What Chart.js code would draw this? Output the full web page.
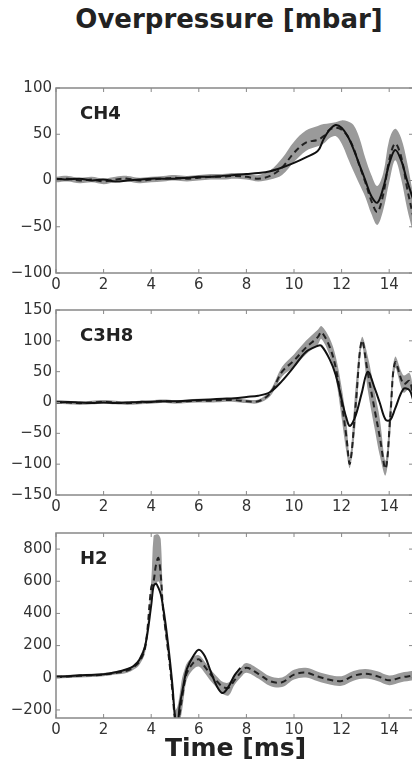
<!DOCTYPE html>
<html>
<head>
<meta charset="utf-8">
<script src="https://cdn.jsdelivr.net/npm/chart.js@4.4.1/dist/chart.umd.min.js"></script>
<style>
  html, body { margin: 0; padding: 0; background: #fff; overflow: hidden; }
  body { width: 412px; height: 762px; position: relative; font-family: "DejaVu Sans", sans-serif; }
  .panel { position: absolute; left: 0; width: 420px; height: 222px; }
  #title { position: absolute; top: 4px; left: 0; width: 458px; text-align: center; font-weight: bold; font-size: 26px; color: #222; }
  #xlabel { position: absolute; top: 733px; left: 0; width: 471px; text-align: center; font-weight: bold; font-size: 25px; color: #222; }
</style>
</head>
<body>
<div id="title">Overpressure [mbar]</div>
<div class="panel" style="top:75px"><canvas id="ch4-chart"></canvas></div>
<div class="panel" style="top:297px"><canvas id="c3h8-chart"></canvas></div>
<div class="panel" style="top:520px"><canvas id="h2-chart"></canvas></div>
<div id="xlabel">Time [ms]</div>
<script>
// Time axis (ms) and tick labels
const xTicks = [0, 2, 4, 6, 8, 10, 12, 14];

// CH4 panel
const ch4Time  = [0, 0.5, 1, 1.5, 2, 2.5, 3, 3.5, 4, 4.5, 5, 5.5, 6, 6.5, 7, 7.5, 8, 8.5, 9, 9.5, 10, 10.5, 11, 11.25, 11.5, 11.75, 12, 12.25, 12.5, 12.75, 13, 13.25, 13.5, 13.75, 14, 14.25, 14.5, 14.75, 15];
const ch4Sim   = [2, 1, 2, 0, 1, -1, 0, 1, 2, 2, 2, 3, 4, 4, 5, 6, 7, 8, 10, 14, 19, 25, 32, 45, 55, 60, 57, 48, 34, 17, 0, -17, -24, -8, 18, 33, 22, 0, -20];
const ch4Exp   = [1, 2, 0, 1, -1, 1, 2, 0, 1, 2, 3, 2, 3, 4, 4, 5, 4, 2, 5, 14, 30, 41, 44, 48, 55, 57, 55, 48, 35, 16, -2, -22, -34, -15, 22, 40, 26, -8, -38];
const ch4Upper = [4, 5, 3, 4, 2, 4, 5, 3, 4, 5, 6, 5, 6, 7, 7, 8, 7, 6, 11, 24, 42, 54, 59, 61, 62, 63, 65, 64, 60, 46, 24, 6, -6, 8, 44, 56, 46, 20, -14];
const ch4Lower = [-2, -1, -3, -2, -4, -2, -1, -3, -2, -1, 0, -1, 0, 1, 1, 2, 1, -1, 1, 6, 20, 32, 37, 40, 46, 48, 40, 25, 10, -4, -18, -36, -48, -32, -2, 22, 2, -30, -56];
const ch4YTicks = [-100, -50, 0, 50, 100];

// C3H8 panel
const c3h8Time  = [0, 0.5, 1, 1.5, 2, 2.5, 3, 3.5, 4, 4.5, 5, 5.5, 6, 6.5, 7, 7.5, 8, 8.5, 9, 9.5, 10, 10.5, 11, 11.15, 11.5, 11.75, 12, 12.2, 12.35, 12.6, 12.85, 13.1, 13.4, 13.6, 13.85, 14.05, 14.25, 14.6, 14.85, 15];
const c3h8Sim   = [0, 1, 0, -1, 0, -1, 0, 1, 1, 2, 2, 3, 4, 5, 6, 7, 9, 11, 17, 35, 58, 82, 92, 92, 70, 45, 5, -25, -38, -20, 16, 50, 22, 0, -28, -28, -10, 22, 20, 5];
const c3h8Exp   = [1, 0, -1, 0, 1, 0, -1, 0, 1, 2, 1, 2, 3, 3, 4, 4, 2, 2, 15, 50, 68, 89, 106, 114, 90, 57, 0, -55, -99, 0, 100, 48, -14, -55, -107, -21, 65, 30, 35, 10];
const c3h8Upper = [4, 3, 2, 3, 4, 3, 2, 3, 4, 5, 4, 5, 6, 6, 7, 7, 5, 5, 20, 58, 78, 100, 118, 124, 104, 75, 25, -30, -88, 30, 106, 75, 15, -25, -94, 5, 74, 44, 48, 24];
const c3h8Lower = [-2, -3, -4, -3, -2, -3, -4, -3, -2, -1, -2, -1, 0, 0, 1, 1, -1, -1, 10, 42, 58, 78, 94, 103, 76, 40, -25, -80, -106, -30, 92, 20, -45, -85, -118, -50, 55, 16, 22, -4];
const c3h8YTicks = [-150, -100, -50, 0, 50, 100, 150];

// H2 panel (simulation stops at ~7.75 ms)
const h2Time  = [0, 0.5, 1, 1.5, 2, 2.5, 3, 3.25, 3.5, 3.75, 4, 4.1, 4.2, 4.3, 4.4, 4.5, 4.6, 4.7, 4.8, 4.9, 5, 5.1, 5.2, 5.3, 5.4, 5.5, 5.75, 6, 6.25, 6.5, 6.75, 7, 7.25, 7.5, 7.75, 8, 8.5, 9, 9.5, 10, 10.5, 11, 11.5, 12, 12.5, 13, 13.5, 14, 14.5, 15];
const h2Sim   = [8, 10, 15, 18, 22, 35, 55, 72, 110, 200, 450, 570, 585, 560, 520, 440, 340, 220, 90, -60, -240, -300, -170, -90, -10, 55, 130, 175, 135, 40, -50, -95, -55, 15, 62, null, null, null, null, null, null, null, null, null, null, null, null, null, null, null];
const h2Exp   = [5, 8, 12, 15, 20, 30, 45, 65, 100, 190, 560, 600, 700, 745, 640, 420, 300, 180, 50, -100, -260, -320, -220, -120, -30, 30, 90, 115, 70, 20, -20, -55, -62, -15, 30, 62, 25, -21, -28, 20, 32, 8, -12, -20, 12, 25, 10, -16, 2, 14];
const h2Upper = [15, 18, 22, 25, 30, 40, 58, 80, 125, 230, 600, 880, 890, 890, 860, 480, 340, 220, 90, -60, -200, -180, -100, 0, 50, 90, 130, 140, 100, 50, 10, -25, -30, 15, 60, 92, 55, 9, 2, 50, 62, 38, 18, 10, 42, 55, 40, 14, 32, 44];
const h2Lower = [-5, -2, 2, 5, 10, 20, 32, 50, 80, 160, 520, 560, 580, 600, 560, 380, 260, 140, 10, -140, -300, -350, -280, -200, -90, -10, 50, 70, 30, -20, -60, -100, -110, -45, 0, 32, -5, -51, -58, -10, 2, -22, -42, -50, -18, -5, -20, -46, -28, -16];
const h2YTicks = [-200, 0, 200, 400, 600, 800];

// frame + inward ticks on all four sides, plus the gas label
const framePlugin = {
  id: "frame",
  afterDraw(chart, args, opts) {
    const { ctx, chartArea: a, scales } = chart;
    ctx.save();
    ctx.strokeStyle = "#888";
    ctx.lineWidth = 1.5;
    ctx.strokeRect(a.left, a.top, a.right - a.left, a.bottom - a.top);
    ctx.lineWidth = 1;
    scales.x.ticks.forEach(t => {
      const px = scales.x.getPixelForValue(t.value);
      ctx.beginPath();
      ctx.moveTo(px, a.bottom); ctx.lineTo(px, a.bottom - 4);
      ctx.moveTo(px, a.top); ctx.lineTo(px, a.top + 4);
      ctx.stroke();
    });
    scales.y.ticks.forEach(t => {
      const py = scales.y.getPixelForValue(t.value);
      ctx.beginPath();
      ctx.moveTo(a.left, py); ctx.lineTo(a.left + 4, py);
      ctx.moveTo(a.right, py); ctx.lineTo(a.right - 4, py);
      ctx.stroke();
    });
    ctx.fillStyle = "#222";
    ctx.font = "bold 18px 'DejaVu Sans'";
    ctx.textBaseline = "middle";
    ctx.fillText(opts.label, a.left + 24, a.top + 26);
    ctx.restore();
  }
};

function pts(time, vals) {
  return time.map((t, i) => ({ x: t, y: vals[i] }));
}

function makePanel(id, label, time, sim, exp, upper, lower, yTicks, yMin, yMax) {
  const ctx = document.getElementById(id).getContext("2d");
  return new Chart(ctx, {
    type: "line",
    data: {
      datasets: [
        { data: pts(time, sim), borderColor: "#111", borderWidth: 2, pointRadius: 0, tension: 0.35, fill: false },
        { data: pts(time, exp), borderColor: "#222", borderWidth: 2, borderDash: [6, 4], pointRadius: 0, tension: 0.35, fill: false },
        { data: pts(time, upper), borderWidth: 0, pointRadius: 0, tension: 0.35, backgroundColor: "#9a9a9a", fill: "+1" },
        { data: pts(time, lower), borderWidth: 0, pointRadius: 0, tension: 0.35, fill: false }
      ]
    },
    options: {
      responsive: true,
      maintainAspectRatio: false,
      animation: false,
      layout: { padding: { top: 12, right: 7, left: 0, bottom: 0 } },
      plugins: {
        legend: { display: false },
        tooltip: { enabled: false },
        frame: { label: label }
      },
      scales: {
        x: {
          type: "linear",
          min: 0,
          max: 15,
          afterBuildTicks: s => { s.ticks = xTicks.map(v => ({ value: v })); },
          afterFit: s => { s.height = 24; },
          grid: { display: false, drawTicks: false },
          border: { display: false },
          ticks: { autoSkip: false, maxRotation: 0, padding: 3, color: "#333", font: { family: "DejaVu Sans", size: 15 } }
        },
        y: {
          min: yMin,
          max: yMax,
          afterBuildTicks: s => { s.ticks = yTicks.map(v => ({ value: v })); },
          afterFit: s => { s.width = 56; },
          grid: { display: false, drawTicks: false },
          border: { display: false },
          ticks: {
            autoSkip: false,
            padding: 4,
            color: "#333",
            font: { family: "DejaVu Sans", size: 15 },
            callback: v => String(v).replace("-", "\u2212")
          }
        }
      }
    },
    plugins: [framePlugin]
  });
}

makePanel("ch4-chart", "CH4", ch4Time, ch4Sim, ch4Exp, ch4Upper, ch4Lower, ch4YTicks, -100, 100);
makePanel("c3h8-chart", "C3H8", c3h8Time, c3h8Sim, c3h8Exp, c3h8Upper, c3h8Lower, c3h8YTicks, -150, 150);
makePanel("h2-chart", "H2", h2Time, h2Sim, h2Exp, h2Upper, h2Lower, h2YTicks, -250, 900);
</script>
</body>
</html>
